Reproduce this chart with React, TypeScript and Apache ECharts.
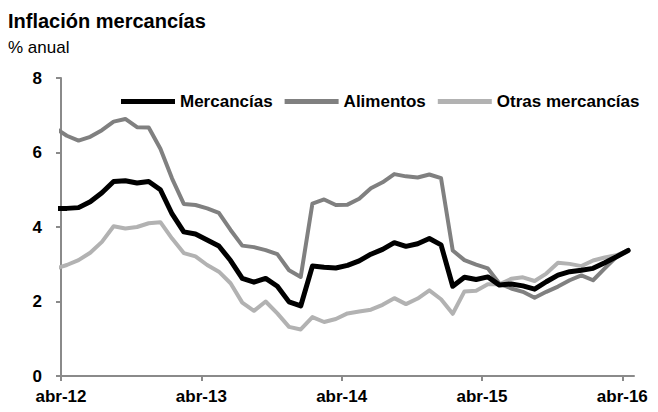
import React, { useEffect, useRef } from "react";
import * as echarts from "echarts";

// Monthly observations from mar-12 to abr-16 (plotted at mid-month)
const mercancias = [
  4.5, 4.5, 4.52, 4.68, 4.92, 5.22, 5.24, 5.18, 5.22, 5.0, 4.35, 3.87, 3.81, 3.65, 3.49, 3.1,
  2.62, 2.52, 2.62, 2.41, 1.99, 1.88, 2.95, 2.92, 2.9, 2.97, 3.09, 3.27, 3.4, 3.58, 3.48, 3.55,
  3.69, 3.52, 2.41, 2.65, 2.59, 2.66, 2.44, 2.47, 2.42, 2.33, 2.53, 2.71, 2.8, 2.84, 2.89, 3.04,
  3.2, 3.37,
];
const alimentos = [
  6.65, 6.45, 6.32, 6.42, 6.6, 6.83, 6.9, 6.68, 6.67, 6.1, 5.3, 4.62, 4.59, 4.5, 4.38, 3.92,
  3.5, 3.46, 3.38, 3.27, 2.84, 2.66, 4.63, 4.74, 4.59, 4.6, 4.76, 5.04, 5.2, 5.42, 5.36, 5.33,
  5.41, 5.31, 3.37, 3.11, 2.99, 2.89, 2.48, 2.35, 2.26, 2.1, 2.26, 2.4, 2.57, 2.7, 2.57, 2.89,
  3.2, 3.37,
];
const otras = [
  2.88, 2.98, 3.11, 3.31, 3.6, 4.02, 3.96, 4.0, 4.1, 4.13, 3.69, 3.3, 3.21, 2.98, 2.8, 2.49,
  1.97, 1.75, 2.0, 1.68, 1.32, 1.25, 1.58, 1.45, 1.53, 1.68, 1.73, 1.78, 1.91, 2.09, 1.93, 2.08,
  2.3, 2.06, 1.67, 2.27, 2.29, 2.46, 2.46, 2.61, 2.65, 2.55, 2.75, 3.04, 3.01, 2.95, 3.1, 3.18,
  3.24, 3.37,
];
const xTickLabels = ["abr-12", "abr-13", "abr-14", "abr-15", "abr-16"];
const seriesNames = ["Mercancías", "Alimentos", "Otras mercancías"];

// x = months since 1-abr-12; first observation is mid-March 2012
const toPoints = (vals: number[]) => vals.map((v, i) => [i - 0.5, v]);

const FONT = "'Liberation Sans', Arial, Helvetica, sans-serif";
const AXIS = "#8a8a8a";

export default function App() {
  const ref = useRef<HTMLDivElement>(null);
  useEffect(() => {
    if (!ref.current) return;
    const chart = echarts.init(ref.current, undefined, { renderer: "svg" });
    chart.setOption({
      animation: false,
      backgroundColor: "#ffffff",
      textStyle: { fontFamily: FONT },
      title: {
        text: "Inflación mercancías",
        subtext: "% anual",
        left: 3,
        top: 6,
        itemGap: 8,
        textStyle: { fontFamily: FONT, fontSize: 20, fontWeight: "bold", color: "#000" },
        subtextStyle: { fontFamily: FONT, fontSize: 17, color: "#000" },
      },
      legend: {
        left: 116,
        top: 88,
        itemWidth: 54,
        itemHeight: 5,
        itemGap: 12,
        icon: "rect",
        data: seriesNames,
        textStyle: { fontFamily: FONT, fontSize: 17, fontWeight: "bold", color: "#000" },
      },
      grid: { left: 61, right: 24, top: 78, bottom: 36, containLabel: false },
      xAxis: {
        type: "value",
        min: 0,
        max: 49,
        interval: 12,
        axisLine: { show: true, lineStyle: { color: AXIS, width: 2 } },
        axisTick: { show: true, length: 5, lineStyle: { color: AXIS, width: 2 } },
        splitLine: { show: false },
        axisLabel: {
          margin: 12,
          fontFamily: FONT,
          fontSize: 17,
          fontWeight: "bold",
          color: "#000",
          formatter: (v: number) => xTickLabels[Math.round(v / 12)] ?? "",
        },
      },
      yAxis: {
        type: "value",
        min: 0,
        max: 8,
        interval: 2,
        axisLine: { show: true, lineStyle: { color: AXIS, width: 2 } },
        axisTick: { show: true, length: 5, lineStyle: { color: AXIS, width: 2 } },
        splitLine: { show: false },
        axisLabel: {
          margin: 19,
          fontFamily: FONT,
          fontSize: 17,
          fontWeight: "bold",
          color: "#000",
        },
      },
      series: [
        {
          name: seriesNames[0],
          type: "line",
          data: toPoints(mercancias),
          symbol: "none",
          z: 5,
          color: "#000000",
          lineStyle: { color: "#000000", width: 5, join: "round", cap: "round" },
        },
        {
          name: seriesNames[1],
          type: "line",
          data: toPoints(alimentos),
          symbol: "none",
          z: 3,
          color: "#808080",
          lineStyle: { color: "#808080", width: 4, join: "round", cap: "round" },
        },
        {
          name: seriesNames[2],
          type: "line",
          data: toPoints(otras),
          symbol: "none",
          z: 4,
          color: "#b2b2b2",
          lineStyle: { color: "#b2b2b2", width: 4, join: "round", cap: "round" },
        },
      ],
    });
    return () => chart.dispose();
  }, []);
  return <div ref={ref} style={{ width: 658, height: 412, margin: -8 }} />;
}
